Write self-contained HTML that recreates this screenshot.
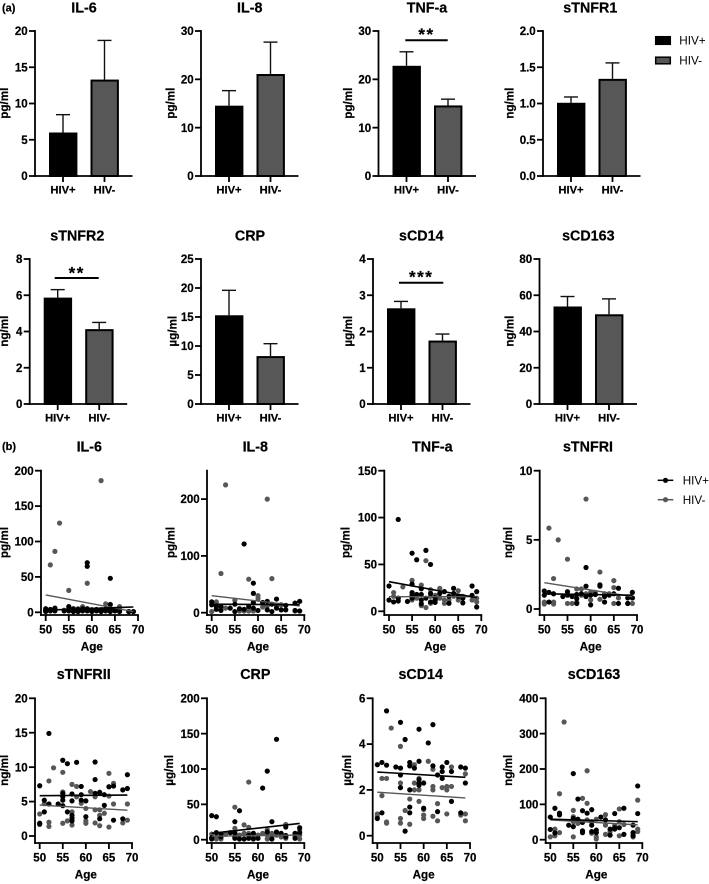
<!DOCTYPE html>
<html lang="en">
<head>
<meta charset="utf-8">
<title>HIV cytokine bar and scatter panels</title>
<style>
html,body{margin:0;padding:0;background:#fff;}
svg{display:block;}
text{font-family:"Liberation Sans",sans-serif;fill:#000;}
.b{font-weight:bold;stroke:#000;stroke-width:.22px;}
</style>
</head>
<body>
<svg id="figure" width="709" height="884" viewBox="0 0 709 884" xmlns="http://www.w3.org/2000/svg">
  <text class="b" x="2" y="11.5" font-size="11">(a)</text>
  <text class="b" x="2" y="450" font-size="11">(b)</text>
  <g>
    <rect x="655.7" y="36.7" width="14.6" height="7.6" fill="#000" stroke="#000" stroke-width="1.5"/>
    <text x="679.3" y="44.7" font-size="11.7">HIV+</text>
    <rect x="655.7" y="57.2" width="14.6" height="6.6" fill="#575757" stroke="#000" stroke-width="1.5"/>
    <text x="679.3" y="64.7" font-size="11.7">HIV-</text>
  </g>
  <g>
    <line x1="657.7" x2="673.3" y1="480.3" y2="480.3" stroke="#000" stroke-width="1.5"/>
    <circle cx="665.5" cy="480.3" r="2.6" fill="#000"/>
    <text x="682.7" y="484.5" font-size="11.7">HIV+</text>
    <line x1="657.7" x2="673.3" y1="499.7" y2="499.7" stroke="#575757" stroke-width="1.5"/>
    <circle cx="665.5" cy="499.7" r="2.6" fill="#575757"/>
    <text x="682.7" y="504" font-size="11.7">HIV-</text>
  </g>
</svg>
<script>
// ---------- Bar chart data ----------
const barCategories = ['HIV+', 'HIV-'];

const il6BarMeans = [6.0, 13.3];
const il6BarUpper = [8.46, 18.7];
const il6BarTicks = ['0', '5', '10', '15', '20'];

const il8BarMeans = [14.55, 21.1];
const il8BarUpper = [17.66, 27.7];
const il8BarTicks = ['0', '10', '20', '30'];

const tnfBarMeans = [22.8, 14.6];
const tnfBarUpper = [25.7, 15.9];
const tnfBarTicks = ['0', '10', '20', '30'];

const tnfr1BarMeans = [1.01, 1.34];
const tnfr1BarUpper = [1.09, 1.56];
const tnfr1BarTicks = ['0.0', '0.5', '1.0', '1.5', '2.0'];

const tnfr2BarMeans = [5.87, 4.13];
const tnfr2BarUpper = [6.31, 4.5];
const tnfr2BarTicks = ['0', '2', '4', '6', '8'];

const crpBarMeans = [15.3, 8.26];
const crpBarUpper = [19.6, 10.4];
const crpBarTicks = ['0', '5', '10', '15', '20', '25'];

const cd14BarMeans = [2.64, 1.75];
const cd14BarUpper = [2.83, 1.93];
const cd14BarTicks = ['0', '1', '2', '3', '4'];

const cd163BarMeans = [53.8, 49.5];
const cd163BarUpper = [59.3, 58];
const cd163BarTicks = ['0', '20', '40', '60', '80'];

// ---------- Scatter data: [age, value] ----------
const ageTicks = ['50', '55', '60', '65', '70'];
const fitAges = [50, 69];

const il6Ticks = ['0', '50', '100', '150', '200'];
const il6Negative = [[51,67],[52,86],[53,126],[55,31],[59,41],[62,186],[63,12],[58,8],[66,8],[50,2],[51,3],[52,4],[54,3],[55,5],[56,3],[57,5],[60,4],[61,3],[62,4],[64,5],[65,4],[68,1],[69,1]];
const il6Positive = [[50,1],[50,3],[50,5],[51,2],[51,4],[52,2],[52,6],[54,2],[55,2],[55,4],[55,8],[56,1],[56,5],[57,1],[57,4],[58,2],[58,5],[59,2],[59,5],[59,65],[59,70],[60,1],[60,3],[61,2],[61,4],[62,1],[62,3],[63,2],[63,5],[64,1],[64,4],[64,11],[64,48],[65,2],[65,4],[66,1],[66,3],[68,1],[69,1]];
const il6FitNegative = [24.5, 1];
const il6FitPositive = [3, 7.5];

const il8Ticks = ['0', '100', '200'];
const il8Negative = [[53,225],[62,200],[52,69],[58,59],[63,60],[60,30],[60,25],[55,22],[51,19],[50,2],[56,3],[57,3],[58,3],[59,3],[61,10],[62,12],[64,12],[65,14],[68,3],[53,8],[58,8]];
const il8Positive = [[57,121],[59,52],[59,34],[64,24],[69,20],[50,19],[68,17],[62,20],[61,18],[63,15],[59,18],[66,13],[55,15],[50,14],[51,11],[52,11],[51,6],[52,4],[54,8],[55,2],[56,7],[57,6],[58,11],[59,8],[60,4],[62,5],[63,2],[64,8],[65,5],[66,5],[68,4],[69,3]];
const il8FitNegative = [30, 12];
const il8FitPositive = [15, 14];

const tnfTicks = ['0', '50', '100', '150'];
const tnfNegative = [[58,54],[55,33],[57,28],[53,26],[59,23],[61,24.5],[65,22],[51,20],[51,16],[50,12],[52,14],[55,17],[56,14],[57,6],[58,4],[59,8.5],[59,16],[60,17],[60,12],[61,14],[62,8.5],[62,12],[63,12],[64,16],[65,12],[66,16],[68,12],[69,10],[55,12],[69,14]];
const tnfPositive = [[52,98],[55,62],[58,65],[56,55],[59,50],[50,27],[55,29],[68,27],[69,21],[55,20],[55,17],[56,18],[57,18],[57,24],[58,14],[59,19],[60,14.5],[60,9.5],[61,19],[62,21],[63,16],[63,8.5],[64,24.5],[64,19],[65,16],[66,14],[66,9],[68,17],[69,4.6],[50,12],[51,10],[52,14],[52,11],[54,10.5],[55,14],[57,12],[57,8],[59,10],[60,12]];
const tnfFitNegative = [15.6, 15.6];
const tnfFitPositive = [31.6, 14.6];

const tnfr1Ticks = ['0', '5', '10'];
const tnfr1Negative = [[51,5.85],[53,5],[55,3.6],[59,7.95],[62,2.67],[65,2.05],[52,2.2],[65,1.55],[58,1.45],[57,1.45],[50,0.5],[50,0.36],[52,0.5],[52,0.36],[55,0.4],[56,0.4],[57,0.5],[59,1.1],[60,0.65],[61,1.2],[62,0.7],[63,1.1],[65,0.4],[66,0.8],[68,0.4],[69,0.4],[69,0.8],[58,1],[60,1.2],[64,1.1]];
const tnfr1Positive = [[59,3],[59,1.65],[62,1.75],[62,1.65],[66,1.5],[50,1.3],[50,1],[51,1.2],[51,0.5],[52,1.1],[54,0.9],[55,1.25],[55,1],[56,0.9],[57,1.05],[57,0.75],[57,0.4],[58,1.1],[59,0.9],[60,0.3],[60,1],[61,1.05],[63,0.5],[63,0.9],[64,1],[65,1.1],[66,0.4],[68,0.8],[68,0.4],[69,1.2],[69,0.8]];
const tnfr1FitNegative = [1.9, 0.9];
const tnfr1FitPositive = [1.1, 1];

const tnfr2Ticks = ['0', '5', '10', '15', '20'];
const tnfr2Negative = [[53,9.9],[55,9.25],[65,9.1],[52,8],[57,7.5],[58,7.2],[66,7.65],[61,6.45],[62,5.7],[65,5.8],[50,3.2],[52,2],[52,1.4],[55,1.85],[56,2.2],[57,1.6],[57,3.5],[58,5.7],[59,4.75],[60,4],[60,2.2],[60,1.85],[62,3.8],[62,1.9],[63,3.8],[63,3],[63,1.5],[64,3.3],[65,1.3],[66,4.65],[68,1.9],[69,2.3],[69,4.65],[55,6.4],[51,4.7]];
const tnfr2Positive = [[52,14.9],[55,11],[56,10.5],[58,10.7],[62,10.75],[62,8.2],[69,8.9],[50,7.3],[59,7.2],[65,7.15],[66,7.25],[68,6.7],[69,6.9],[51,5.2],[51,3.5],[50,1.85],[50,1.7],[52,4.65],[54,4.65],[55,6.2],[55,5.7],[55,5.2],[55,4.4],[56,3.5],[57,6.1],[57,5.1],[57,3],[57,2.6],[57,2.2],[59,6],[59,5.2],[60,5.1],[60,2.8],[62,6.2],[63,6.35],[63,2.5],[64,6],[64,4.45],[66,2.3],[68,2.5]];
const tnfr2FitNegative = [4.5, 3.75];
const tnfr2FitPositive = [5.85, 5.95];

const crpTicks = ['0', '50', '100', '150', '200'];
const crpNegative = [[58,81.5],[55,46],[57,21],[58,17.5],[66,21.5],[61,9],[55,16],[55,11],[53,7.5],[50,8],[51,4],[52,1],[51,1],[56,6.5],[57,9],[58,9],[59,4],[60,6.5],[62,1],[62,6.5],[63,9],[63,4],[64,6.5],[65,4],[66,2],[68,4],[69,1],[69,6.5],[69,14],[62,14]];
const crpPositive = [[64,142],[62,97],[61,73],[56,41],[50,34],[51,32.5],[55,25.5],[63,25.5],[66,18],[69,17],[62,11],[51,10],[69,10],[52,8],[54,10],[58,6],[64,11],[65,9],[66,4],[68,9],[68,2],[50,3],[50,1],[55,4],[55,2],[56,1],[57,1],[58,2],[59,1],[59,9],[60,2],[63,1],[52,4],[66,6],[55,9]];
const crpFitNegative = [5, 6.6];
const crpFitPositive = [9, 23];

const cd14Ticks = ['0', '2', '4', '6'];
const cd14Negative = [[53,4.7],[55,3.9],[61,3.25],[58,3.1],[62,2.9],[66,3],[69,2.7],[51,2.5],[52,2.5],[55,2.3],[58,2.3],[59,2.5],[58,2],[59,2],[62,2.15],[62,2],[64,2.1],[65,2.15],[65,2],[66,2.15],[51,1.75],[57,1.6],[59,1.5],[63,1.4],[56,1.1],[60,1.15],[60,0.9],[60,0.75],[62,0.85],[65,0.95],[50,0.95],[50,0.85],[69,0.95],[68,0.9],[69,0.65],[55,0.75],[55,0.55],[52,0.6],[52,0.55],[57,0.5],[63,0.65]];
const cd14Positive = [[52,5.45],[55,4.95],[59,4.65],[62,4.85],[56,4.2],[61,4.05],[50,3.1],[51,3.2],[52,3.08],[54,3],[55,2.95],[57,3.2],[57,3.05],[58,2.95],[59,3.25],[62,3.05],[64,3],[65,3.2],[64,2.8],[66,2.8],[68,3],[69,2.95],[55,2.65],[63,2.65],[64,2.5],[59,2.45],[59,2.3],[60,2.3],[59,2.2],[69,2.3],[55,2.1],[57,2],[66,1.5],[57,1.25],[60,1.2],[63,1.05],[57,1],[68,1],[51,1],[50,0.75],[56,0.2]];
const cd14FitNegative = [1.9, 1.65];
const cd14FitPositive = [2.78, 2.55];

const cd163Ticks = ['0', '100', '200', '300', '400'];
const cd163Negative = [[53,333],[58,195],[52,130],[57,117],[58,103],[69,112],[55,83],[65,87],[62,71],[60,58],[55,65],[58,56],[56,46],[55,51],[65,51],[66,43],[69,30],[69,23],[62,41],[62,15],[63,23],[52,20],[51,30],[50,8],[51,11],[55,8],[57,23],[59,18],[60,8],[60,2],[64,40],[65,11],[68,16],[68,8]];
const cd163Positive = [[55,187],[69,152],[56,115],[66,89],[51,89],[59,85],[57,82],[58,75],[52,75],[52,70],[64,74],[69,74],[61,64],[50,64],[55,60],[56,58],[62,56],[57,49],[59,51],[54,41],[55,37],[59,41],[68,41],[50,29],[60,27],[63,30],[64,34],[65,34],[57,25],[57,20],[51,19],[59,23],[60,20],[63,13],[66,15],[68,20],[68,11],[64,30]];
const cd163FitNegative = [56, 42];
const cd163FitPositive = [58, 51];

// ---------- Panel assembly (layout kept apart from data) ----------
const barPanels = [
  {title:'IL-6', unit:'pg/ml', means:il6BarMeans, upper:il6BarUpper, ticks:il6BarTicks, axisX:35, top:31, bottom:176, titleX:84, titleY:12.3, labelX:8},
  {title:'IL-8', unit:'pg/ml', means:il8BarMeans, upper:il8BarUpper, ticks:il8BarTicks, axisX:201, top:31, bottom:176, titleX:249.7, titleY:12.3, labelX:174.7},
  {title:'TNF-a', unit:'pg/ml', means:tnfBarMeans, upper:tnfBarUpper, ticks:tnfBarTicks, axisX:378.5, top:31, bottom:176, titleX:427, titleY:12.3, labelX:352, sig:{stars:'**', x1:405.3, x2:447.7, y:40.3, starY:40}},
  {title:'sTNFR1', unit:'ng/ml', means:tnfr1BarMeans, upper:tnfr1BarUpper, ticks:tnfr1BarTicks, axisX:543, top:31, bottom:176, titleX:590.3, titleY:12.3, labelX:513.3},
  {title:'sTNFR2', unit:'ng/ml', means:tnfr2BarMeans, upper:tnfr2BarUpper, ticks:tnfr2BarTicks, axisX:29.7, top:259, bottom:404, titleX:77.3, titleY:240.7, labelX:8, sig:{stars:'**', x1:54.7, x2:98.7, y:278, starY:278.4}},
  {title:'CRP', unit:'µg/ml', means:crpBarMeans, upper:crpBarUpper, ticks:crpBarTicks, axisX:201, top:259, bottom:404, titleX:250, titleY:240.7, labelX:176.3},
  {title:'sCD14', unit:'µg/ml', means:cd14BarMeans, upper:cd14BarUpper, ticks:cd14BarTicks, axisX:373, top:259, bottom:404, titleX:421.3, titleY:240.7, labelX:352, sig:{stars:'***', x1:399, x2:443.3, y:282.7, starY:282.7}},
  {title:'sCD163', unit:'ng/ml', means:cd163BarMeans, upper:cd163BarUpper, ticks:cd163BarTicks, axisX:539.5, top:259, bottom:404, titleX:588.3, titleY:240.7, labelX:513.3}
];

const scatterPanels = [
  {title:'IL-6', unit:'pg/ml', neg:il6Negative, pos:il6Positive, fitNeg:il6FitNegative, fitPos:il6FitPositive, ticks:il6Ticks, yMax:200, axisX:41, x50:45.7, x70:138, yTop:470.7, yZero:612.3, axisBottom:615, titleX:89.3, titleY:451.7, labelX:8},
  {title:'IL-8', unit:'pg/ml', neg:il8Negative, pos:il8Positive, fitNeg:il8FitNegative, fitPos:il8FitPositive, ticks:il8Ticks, yMax:250, axisX:207, x50:211.7, x70:304.3, yTop:470.7, yZero:612.7, axisBottom:615, titleX:255.3, titleY:451.7, labelX:174.7},
  {title:'TNF-a', unit:'pg/ml', neg:tnfNegative, pos:tnfPositive, fitNeg:tnfFitNegative, fitPos:tnfFitPositive, ticks:tnfTicks, yMax:150, axisX:384.3, x50:389, x70:481.3, yTop:470.7, yZero:611.3, axisBottom:615, titleX:432.3, titleY:451.7, labelX:349.7},
  {title:'sTNFRI', unit:'ng/ml', neg:tnfr1Negative, pos:tnfr1Positive, fitNeg:tnfr1FitNegative, fitPos:tnfr1FitPositive, ticks:tnfr1Ticks, yMax:10, axisX:539.7, x50:544.3, x70:637, yTop:470.7, yZero:609, axisBottom:615, titleX:588, titleY:451.7, labelX:512},
  {title:'sTNFRII', unit:'ng/ml', neg:tnfr2Negative, pos:tnfr2Positive, fitNeg:tnfr2FitNegative, fitPos:tnfr2FitPositive, ticks:tnfr2Ticks, yMax:20, axisX:35, x50:39.7, x70:132, yTop:698.3, yZero:836, axisBottom:843, titleX:83.7, titleY:679, labelX:8},
  {title:'CRP', unit:'µg/ml', neg:crpNegative, pos:crpPositive, fitNeg:crpFitNegative, fitPos:crpFitPositive, ticks:crpTicks, yMax:200, axisX:207, x50:211.7, x70:304.3, yTop:698.3, yZero:839.7, axisBottom:843, titleX:255.3, titleY:679, labelX:173},
  {title:'sCD14', unit:'µg/ml', neg:cd14Negative, pos:cd14Positive, fitNeg:cd14FitNegative, fitPos:cd14FitPositive, ticks:cd14Ticks, yMax:6, axisX:372.7, x50:377.3, x70:470, yTop:698.3, yZero:835.7, axisBottom:843, titleX:420.7, titleY:679, labelX:351},
  {title:'sCD163', unit:'ng/ml', neg:cd163Negative, pos:cd163Positive, fitNeg:cd163FitNegative, fitPos:cd163FitPositive, ticks:cd163Ticks, yMax:400, axisX:545.7, x50:550.3, x70:642.3, yTop:698.3, yZero:839.7, axisBottom:843, titleX:594, titleY:679, labelX:512}
];

const GRAY = '#575757';
const AXIS_WIDTH = 1.8;
const svg = document.getElementById('figure');
const NS = 'http://www.w3.org/2000/svg';

function make(tag, attrs, parent) {
  const el = document.createElementNS(NS, tag);
  for (const k in attrs) el.setAttribute(k, attrs[k]);
  parent.appendChild(el);
  return el;
}
function line(parent, x1, y1, x2, y2, color, width) {
  return make('line', {x1: x1, y1: y1, x2: x2, y2: y2, stroke: color, 'stroke-width': width}, parent);
}
function label(parent, str, x, y, size, anchor, bold) {
  const el = make('text', {x: x, y: y, 'font-size': size, 'text-anchor': anchor}, parent);
  if (bold) el.setAttribute('class', 'b');
  el.textContent = str;
  return el;
}
function drawFrame(g, p, yScale, axisBottom, xEnd) {
  const title = label(g, p.title, p.titleX, p.titleY, 14.3, 'middle', true);
  
  

  const mid = (p.frameTop + axisBottom) / 2 - 0.3;
  const unit = label(g, p.unit, 0, 0, 11.7, 'middle', true);
  unit.setAttribute('transform', 'translate(' + p.labelX + ',' + mid + ') rotate(-90)');
  
  

  const yAxis = line(g, p.axisX, p.frameTop - 0.9, p.axisX, axisBottom + 0.9, '#000', AXIS_WIDTH);
  
  

  const xAxis = line(g, p.axisX - 0.9, axisBottom, xEnd, axisBottom, '#000', AXIS_WIDTH);
  
  

  p.ticks.forEach(function (t) {
    const y = yScale(parseFloat(t));
    const tick = line(g, p.axisX - 6, y, p.axisX, y, '#000', AXIS_WIDTH);
    
    
    const tl = label(g, t, p.axisX - 7.3, y + 4.1, 11.5, 'end', true);
    
    
  });
}

// ---------- Bars ----------
barPanels.forEach(function (p) {
  p.frameTop = p.top;
  const g = make('g', {}, svg);
  
  
  const maxTick = parseFloat(p.ticks[p.ticks.length - 1]);
  const y = function (v) { return p.bottom - (v / maxTick) * (p.bottom - p.top); };
  const x = function (i) { return p.axisX + 28 + i * 41.5; };
  const xEnd = p.axisX + 97.5;

  barCategories.forEach(function (cat, i) {
    const cx = x(i);
    const fill = i === 0 ? '#000' : GRAY;
    const stem = line(g, cx, y(p.upper[i]), cx, y(p.means[i]), '#111', 1.4);
    
    
    const cap = line(g, cx - 7, y(p.upper[i]), cx + 7, y(p.upper[i]), '#111', 1.4);
    
    
    const rect = make('rect', {x: cx - 13, y: y(p.means[i]) + 1, width: 26.4, height: Math.max(0, p.bottom - y(p.means[i]) - 1), fill: fill, stroke: '#000', 'stroke-width': 2}, g);
    
    
    const tick = line(g, cx, p.bottom, cx, p.bottom + 6, '#000', AXIS_WIDTH);
    
    
    const tl = label(g, cat, cx, p.bottom + 17.7, 11.2, 'middle', true);
    
    
  });
  drawFrame(g, p, y, p.bottom, xEnd);

  if (p.sig) {
    const sl = line(g, p.sig.x1, p.sig.y, p.sig.x2, p.sig.y, '#000', 2);
    
    
    const st = label(g, p.sig.stars, (p.sig.x1 + p.sig.x2) / 2, p.sig.starY, 17, 'middle', true);
    st.setAttribute('letter-spacing', '1.5');
    
    
  }
});

// ---------- Scatter ----------
scatterPanels.forEach(function (p) {
  p.frameTop = p.yTop;
  const g = make('g', {}, svg);
  
  
  const xs = function (a) { return p.x50 + (a - 50) / 20 * (p.x70 - p.x50); };
  const ys = function (v) { return p.yZero - (v / p.yMax) * (p.yZero - p.yTop); };

  p.neg.forEach(function (d) {
    const c = make('circle', {cx: xs(d[0]), cy: ys(d[1]), r: 2.6, fill: GRAY}, g);
    
    
  });
  p.pos.forEach(function (d) {
    const c = make('circle', {cx: xs(d[0]), cy: ys(d[1]), r: 2.6, fill: '#000'}, g);
    
    
  });
  const fn = line(g, xs(fitAges[0]), ys(p.fitNeg[0]), xs(fitAges[1]), ys(p.fitNeg[1]), GRAY, 1.4);
  
  
  const fp = line(g, xs(fitAges[0]), ys(p.fitPos[0]), xs(fitAges[1]), ys(p.fitPos[1]), '#000', 1.6);
  
  

  drawFrame(g, p, ys, p.axisBottom, p.x70 + 0.9);

  ageTicks.forEach(function (t) {
    const x = xs(parseFloat(t));
    const tick = line(g, x, p.axisBottom, x, p.axisBottom + 6, '#000', AXIS_WIDTH);
    
    
    const tl = label(g, t, x, p.axisBottom + 18.6, 11.5, 'middle', true);
    
    
  });
  const age = label(g, 'Age', (p.x50 + p.x70) / 2, p.axisBottom + 35.5, 11.7, 'middle', true);
  
  
});
</script>
</body>
</html>
